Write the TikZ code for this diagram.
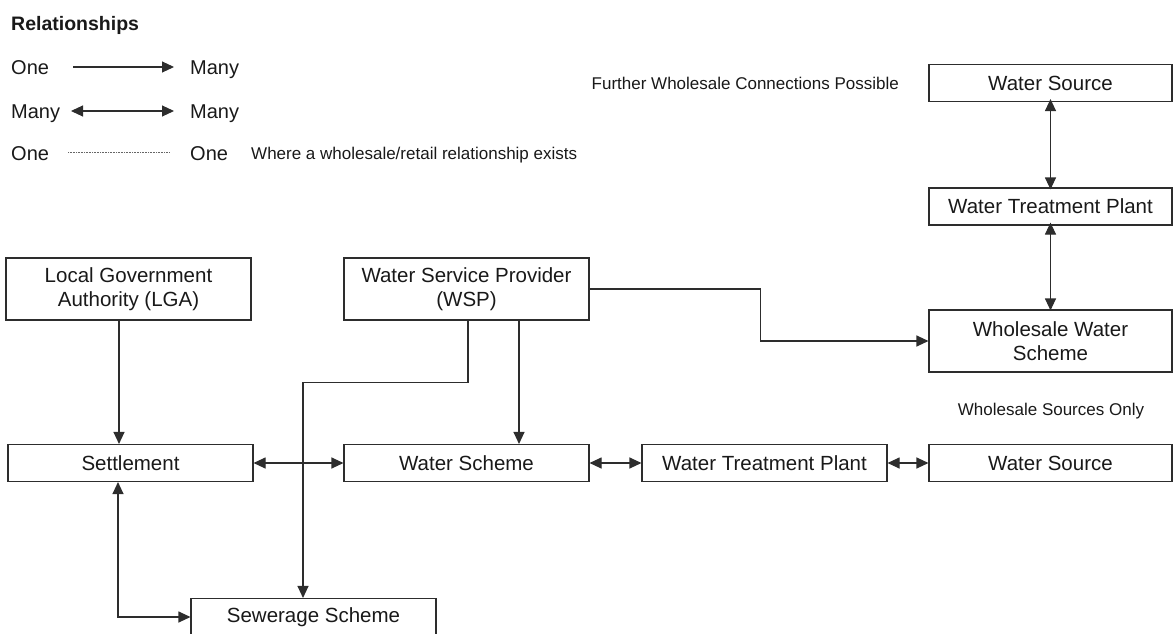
\documentclass[tikz,border=0pt]{standalone}
\usepackage{fontspec}
\setmainfont{Liberation Sans}
\usepackage{tikz}
\usetikzlibrary{arrows.meta,positioning}
\usepackage{xcolor}
\definecolor{boxline}{RGB}{45,45,45}
\definecolor{wtext}{RGB}{25,25,25}
\tikzstyle{onemany} = [line width=1.1pt, draw=boxline, -{Triangle[length=12pt,width=11pt]}]
\tikzstyle{manymany} = [onemany, {Triangle[length=12pt,width=11pt]}-{Triangle[length=12pt,width=11pt]}]

\begin{document}
\begin{tikzpicture}[
    x=1pt, y=-1pt,
    entity/.style={rectangle, draw=boxline, line width=1.1pt, minimum width=245pt, minimum height=37pt, inner sep=0pt, text=wtext, font=\fontsize{20.5}{23.5}\selectfont, align=center},
    tall/.style={entity, minimum height=62pt},
    legtext/.style={inner sep=0pt, anchor=base west, text=wtext, font=\fontsize{20}{23}\selectfont},
    remark/.style={inner sep=0pt, text=wtext, font=\fontsize{17}{20}\selectfont}
]
\useasboundingbox (0,0) rectangle (1173,634);

% Legend
\node[legtext, font=\bfseries\fontsize{19.5}{23}\selectfont] (legtitle) at (11,30.5) {Relationships};
\node[legtext] (oneA) at (11,74.5) {One};
\node[legtext] (manyA) at (190,74.5) {Many};
\node[legtext] (manyB) at (11,118.5) {Many};
\node[legtext] (manyC) at (190,118.5) {Many};
\node[legtext] (oneB) at (11,160) {One};
\node[legtext] (oneC) at (190,160) {One};
\node[remark, anchor=base west] (wholeret) at (251,159) {Where a wholesale/retail relationship exists};
\coordinate (la1) at (73,67);
\coordinate (la2) at (174,67);
\coordinate (lb1) at (71,111);
\coordinate (lb2) at (174,111);
\coordinate (lc1) at (68,152);
\coordinate (lc2) at (170,152);
\draw[onemany] (la1) -- (la2);
\draw[manymany] (lb1) -- (lb2);
\draw[densely dotted, line width=0.6pt, draw=black!60] (lc1) -- (lc2);

% Top level
\node[tall] (lga) at (128.5,289) {Local Government\\Authority (LGA)};
\node[tall] (wsp) at (466.5,289) {Water Service Provider\\(WSP)};

% Retail row
\node[entity] (settle) at (130.5,463) {Settlement};
\node[entity] (wscheme) at (466.5,463) {Water Scheme};
\node[entity] (wtpl) at (764.5,463) {Water Treatment Plant};
\node[entity, minimum width=243pt] (srcl) at (1050.5,463) {Water Source};
\node[entity] (sewer) at (313.5,617) {Sewerage Scheme};

% Wholesale column
\node[entity, minimum width=243pt] (srcu) at (1050.5,83) {Water Source};
\node[entity, minimum width=243pt] (wtpu) at (1050.5,206.5) {Water Treatment Plant};
\node[tall, minimum width=243pt] (wholesale) at (1050.5,341) {Wholesale Water\\Scheme};
\node[remark, anchor=base east] (further) at (899,89) {Further Wholesale Connections Possible};
\node[remark, anchor=base] (wsonly) at (1051,415) {Wholesale Sources Only};

% Connections
\draw[onemany] ([xshift=-9.5]lga.south) -- ([xshift=-11.5]settle.north);
\draw[manymany] (settle.east) -- (wscheme.west);
\draw[onemany] ([xshift=52.5]wsp.south) -- ([xshift=52.5]wscheme.north);
\draw[onemany] ([xshift=1.5]wsp.south) -- ++(0,62) -| ([xshift=-10.5]sewer.north);
\draw[manymany] ([xshift=-12.5]settle.south) |- (sewer.west);
\draw[onemany] (wsp.east) -- ++(171,0) |- (wholesale.west);
\draw[manymany] (wscheme.east) -- (wtpl.west);
\draw[manymany] (wtpl.east) -- (srcl.west);
\draw[manymany] ([yshift=3]srcu.south) -- ([yshift=-2]wtpu.north);
\draw[manymany] ([yshift=3]wtpu.south) -- ([yshift=-1]wholesale.north);
\end{tikzpicture}
\end{document}
